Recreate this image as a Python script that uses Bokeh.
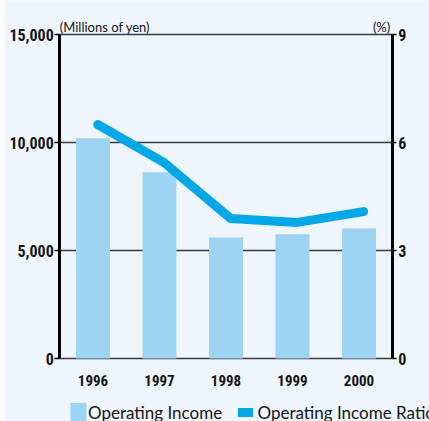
from bokeh.plotting import figure
from bokeh.models import (Range1d, LinearAxis, FixedTicker, ColumnDataSource,
                          Legend, LegendItem, Label, NumeralTickFormatter)
from bokeh.transform import dodge
from bokeh.embed import file_html
from bokeh.resources import INLINE

years = [1996, 1997, 1998, 1999, 2000]
operating_income = [10200, 8620, 5600, 5750, 6020]          # millions of yen
operating_income_ratio = [6.5, 5.44, 3.89, 3.78, 4.08]       # %
left_ticks = [0, 5000, 10000, 15000]
right_ticks = [0, 3, 6, 9]

BG = "#EEF5FC"
BAR = "#9DD4F3"
LINE = "#00A8E8"
NUM_FONT = ("Liberation Sans Narrow, Noto Sans ExtraCondensed, Noto Sans Condensed, "
            "Roboto Condensed, DejaVu Sans Condensed, sans-serif")
TXT_FONT = "Lato"
INK = "#151515"

W, H = 429, 421
src = ColumnDataSource(dict(year=years, inc=operating_income, ratio=operating_income_ratio))

# frame covers the whole canvas (except a thin white strip at left);
# the axes are pinned with fixed_location so that outer texts are not clipped.
px_per_year = 66.5
x0_px, first_px = 4, 92.5
last_px = first_px + px_per_year * (len(years) - 1)
x_start = years[0] - (first_px - x0_px) / px_per_year
x_end = years[-1] + (W - last_px) / px_per_year
top_px, base_px = 34, 358
y_per_px = left_ticks[-1] / (base_px - top_px)
r_per_px = right_ticks[-1] / (base_px - top_px)

p = figure(x_range=Range1d(x_start, x_end),
           y_range=Range1d(-(H - base_px) * y_per_px, left_ticks[-1] + top_px * y_per_px),
           width=W, height=H, output_backend="svg", toolbar_location=None,
           min_border_left=4, min_border_right=0, min_border_top=0, min_border_bottom=0)
p.background_fill_color = BG
p.border_fill_color = "white"
p.outline_line_color = None
p.extra_y_ranges = {"pct": Range1d(-(H - base_px) * r_per_px, right_ticks[-1] + top_px * r_per_px)}

lo, hi = years[0] - 0.5, years[-1] + 0.5

bars = p.vbar(x="year", top="inc", width=0.51, source=src, fill_color=BAR, line_color=None)
line = p.line(x=dodge("year", 0.07), y="ratio", source=src, y_range_name="pct",
              line_color=LINE, line_width=9, line_cap="round", line_join="round")

# grid
p.xgrid.grid_line_color = None
p.ygrid.ticker = FixedTicker(ticks=left_ticks)
p.ygrid.cross_bounds = (lo, hi)
p.ygrid.grid_line_color = "#3a3a3a"
p.ygrid.grid_line_width = 1.5

def style_num_axis(ax, standoff, tick_out):
    ax.axis_line_width = 3
    ax.axis_line_color = "black"
    ax.major_tick_in = 0
    ax.major_tick_out = tick_out
    ax.major_tick_line_width = 1.5
    ax.minor_tick_line_color = None
    ax.major_label_standoff = standoff
    ax.major_label_text_font = NUM_FONT
    ax.major_label_text_font_style = "bold"
    ax.major_label_text_font_size = "16px"
    ax.major_label_text_color = INK

ya = p.yaxis[0]
ya.ticker = FixedTicker(ticks=left_ticks)
ya.formatter = NumeralTickFormatter(format="0,0")
ya.fixed_location = lo
ya.bounds = (left_ticks[0], left_ticks[-1])
style_num_axis(ya, 1, 5)

ra = LinearAxis(y_range_name="pct", ticker=FixedTicker(ticks=right_ticks),
                fixed_location=hi, bounds=(right_ticks[0], right_ticks[-1]))
style_num_axis(ra, 2, 4)
p.add_layout(ra, "right")

xa = p.xaxis[0]
xa.ticker = FixedTicker(ticks=years)
xa.fixed_location = 0
xa.axis_line_color = None
xa.major_tick_line_color = None
xa.minor_tick_line_color = None
xa.major_label_standoff = 10
xa.major_label_text_font = NUM_FONT
xa.major_label_text_font_style = "bold"
xa.major_label_text_font_size = "15px"
xa.major_label_text_color = INK

# unit labels
p.add_layout(Label(x=lo, y=left_ticks[-1], text="(Millions of yen)", x_offset=0, y_offset=8,
                   text_baseline="alphabetic", text_font=TXT_FONT, text_font_size="13px",
                   text_color=INK))
p.add_layout(Label(x=hi, y=right_ticks[-1], y_range_name="pct", text="(%)", x_offset=-2,
                   y_offset=8, text_align="right", text_baseline="alphabetic",
                   text_font=TXT_FONT, text_font_size="13px", text_color=INK))

def make_legend(item, loc, gw, standoff):
    return Legend(items=[item], location=loc, orientation="horizontal",
                  glyph_width=gw, glyph_height=24, label_height=24, label_standoff=standoff,
                  padding=0, margin=0, spacing=0, border_line_color=None,
                  background_fill_alpha=0, label_text_font=TXT_FONT,
                  label_text_font_size="17px", label_text_color=INK)

p.add_layout(make_legend(LegendItem(label="Operating Income", renderers=[bars]), (64, -3), 20, 0))
p.add_layout(make_legend(LegendItem(label="Operating Income Ratio", renderers=[line]), (233.5, -3), 15, 5))

open("out.html", "w").write(file_html(p, INLINE))
